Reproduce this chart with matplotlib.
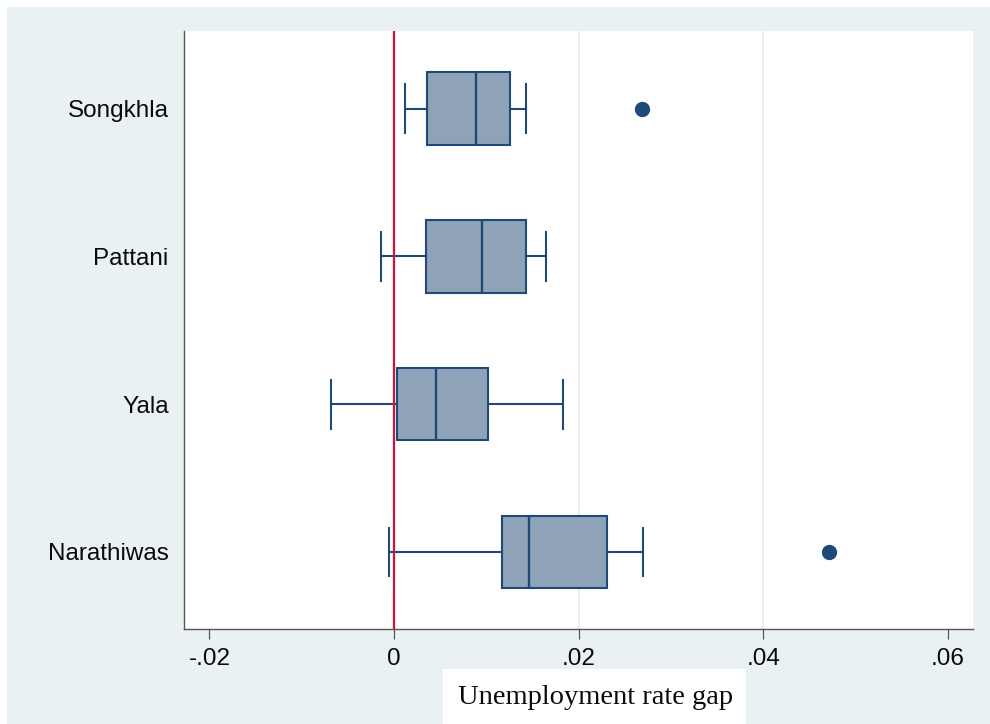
import matplotlib
matplotlib.use("Agg")
import matplotlib.pyplot as plt
from matplotlib.patches import Rectangle

# provinces listed bottom to top
regions = ["Narathiwas", "Yala", "Pattani", "Songkhla"]
whisker_low = [-0.0006, -0.0068, -0.0014, 0.0012]
q1 = [0.0117, 0.0003, 0.0034, 0.0036]
median = [0.0146, 0.0045, 0.0095, 0.0089]
q3 = [0.0231, 0.0102, 0.0143, 0.0125]
whisker_high = [0.0270, 0.0183, 0.0165, 0.0143]
outliers = [[0.0471], [], [], [0.0268]]

x_ticks = [-0.02, 0, 0.02, 0.04, 0.06]
x_tick_labels = ["-.02", "0", ".02", ".04", ".06"]
grid_at = [0.02, 0.04]

BG = "#eaf1f3"
NAVY = "#1f4a78"
FILL = "#8fa3b8"
RED = "#cc1538"

fig = plt.figure(figsize=(9.9, 7.24), dpi=100)
fig.patch.set_facecolor("white")
fig.patches.append(Rectangle((7 / 990, 0), 1, 1 - 7 / 724, transform=fig.transFigure,
                             facecolor=BG, edgecolor="none", zorder=-10))

ax = fig.add_axes([184 / 990, 1 - 629 / 724, (972.7 - 184) / 990, (629 - 31) / 724])
ax.set_facecolor("white")

stats = []
for i, name in enumerate(regions):
    stats.append({
        "label": name,
        "whislo": whisker_low[i],
        "q1": q1[i],
        "med": median[i],
        "q3": q3[i],
        "whishi": whisker_high[i],
        "fliers": outliers[i],
    })

line_kw = dict(color=NAVY, linewidth=1.5)
ax.bxp(stats, positions=[1, 2, 3, 4], widths=0.49, capwidths=0.33,
       orientation="horizontal", patch_artist=True,
       boxprops=dict(facecolor=FILL, edgecolor=NAVY, linewidth=1.5),
       medianprops=dict(color=NAVY, linewidth=1.7),
       whiskerprops=line_kw, capprops=line_kw,
       flierprops=dict(marker="o", markersize=10, markerfacecolor=NAVY,
                       markeredgecolor=NAVY), zorder=3)

for g in grid_at:
    ax.axvline(g, color="#e5eef0", linewidth=1.4, zorder=1)
ax.axvline(0, color=RED, linewidth=1.6, zorder=4)

ax.set_xlim(-0.02276, 0.06267)
ax.set_ylim(0.479, 4.525)
ax.set_xticks(x_ticks)
ax.set_xticklabels(x_tick_labels)
ax.set_yticks([1, 2, 3, 4])
ax.set_yticklabels(regions)

for lab in ax.get_xticklabels() + ax.get_yticklabels():
    lab.set_fontfamily("Liberation Sans")
    lab.set_fontsize(17.5)
    lab.set_color("#0a0a0a")
ax.tick_params(axis="x", length=7, width=0.9, color="#555555", pad=7)
ax.tick_params(axis="y", length=0, pad=11)

for side in ("top", "right"):
    ax.spines[side].set_visible(False)
for side in ("left", "bottom"):
    ax.spines[side].set_color("#555555")
    ax.spines[side].set_linewidth(1.0)

# axis title sits on its own white panel
fig.patches.append(Rectangle((443 / 990, 0), (746 - 443) / 990, (724 - 669) / 724,
                             transform=fig.transFigure, facecolor="white",
                             edgecolor="none", zorder=-5))
fig.text(596 / 990, 1 - 697 / 724, "Unemployment rate gap", ha="center", va="center",
         fontfamily="Liberation Serif", fontsize=20.5, color="#0a0a0a")

fig.savefig("out.png", dpi=100, facecolor=fig.get_facecolor())
